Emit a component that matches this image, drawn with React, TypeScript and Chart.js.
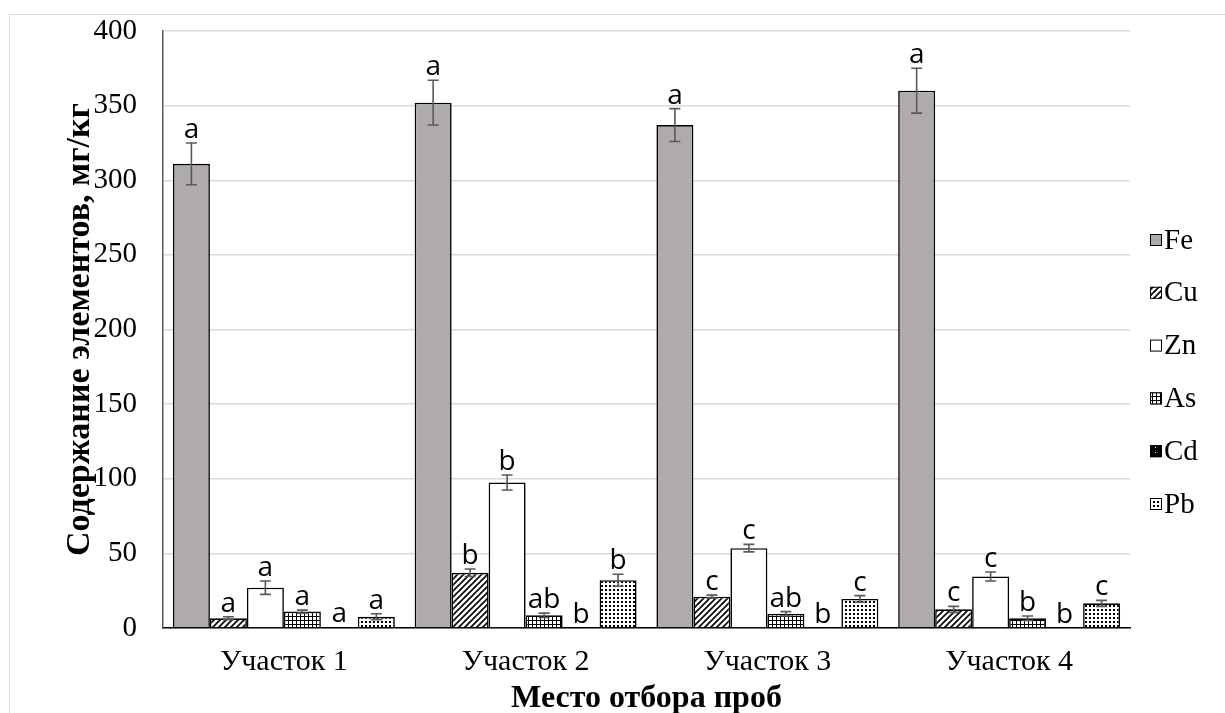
import React, { useEffect, useRef } from "react";
import { Chart, registerables } from "chart.js";

Chart.register(...registerables);

// ---- data ----
const categories = ["Участок 1", "Участок 2", "Участок 3", "Участок 4"];
const seriesNames = ["Fe", "Cu", "Zn", "As", "Cd", "Pb"];

const feValues = [311, 352, 337, 360];
const cuValues = [6.5, 37, 21, 12.5];
const znValues = [27, 97.5, 53.5, 34.5];
const asValues = [11, 8.5, 9.5, 6.5];
const cdValues = [0.4, 0.3, 0.3, 0.3];
const pbValues = [7.5, 32, 19.5, 16.5];

const feErrors = [14, 15, 11, 15];
const cuErrors = [1, 2.5, 1, 2];
const znErrors = [4.5, 5, 2.5, 3];
const asErrors = [1, 1.5, 1.5, 1.5];
const cdErrors = [0, 0, 0, 0];
const pbErrors = [2, 4, 2.2, 2];

const feLetters = ["a", "a", "a", "a"];
const cuLetters = ["a", "b", "c", "c"];
const znLetters = ["a", "b", "c", "c"];
const asLetters = ["a", "ab", "ab", "b"];
const cdLetters = ["a", "b", "b", "b"];
const pbLetters = ["a", "b", "c", "c"];

const yTicks = [0, 50, 100, 150, 200, 250, 300, 350, 400];

const yTitle = "Содержание элементов, мг/кг";
const xTitle = "Место отбора проб";

function makePattern(kind: string): CanvasPattern | string {
  const c = document.createElement("canvas");
  const g = c.getContext("2d")!;
  if (kind === "hatch") {
    const s = 6;
    c.width = s; c.height = s;
    g.fillStyle = "#fff"; g.fillRect(0, 0, s, s);
    g.strokeStyle = "#000"; g.lineWidth = 1.6;
    g.beginPath();
    g.moveTo(-1, s + 1); g.lineTo(s + 1, -1);
    g.moveTo(-1, 1); g.lineTo(1, -1);
    g.moveTo(s - 1, s + 1); g.lineTo(s + 1, s - 1);
    g.stroke();
  } else if (kind === "grid") {
    c.width = 4; c.height = 4;
    g.fillStyle = "#000"; g.fillRect(0, 0, 4, 4);
    g.fillStyle = "#fff"; g.fillRect(1, 1, 3, 3);
  } else if (kind === "dots") {
    c.width = 4; c.height = 4;
    g.fillStyle = "#fff"; g.fillRect(0, 0, 4, 4);
    g.fillStyle = "#000"; g.fillRect(1, 1, 2, 2);
  } else if (kind === "darkdots") {
    c.width = 6; c.height = 5;
    g.fillStyle = "#000"; g.fillRect(0, 0, 6, 5);
    g.fillStyle = "#fff"; g.fillRect(3, 2, 1, 1);
  }
  return g.createPattern(c, "repeat")!;
}

const errorBarPlugin = {
  id: "errorBars",
  afterDatasetsDraw(chart: any) {
    const ctx = chart.ctx as CanvasRenderingContext2D;
    const y = chart.scales.y;
    chart.data.datasets.forEach((ds: any, i: number) => {
      const meta = chart.getDatasetMeta(i);
      meta.data.forEach((bar: any, j: number) => {
        const v = ds.data[j];
        const e = ds.errors[j];
        const top = y.getPixelForValue(v + e);
        const bot = y.getPixelForValue(v - e);
        ctx.save();
        if (e > 0) {
          ctx.strokeStyle = "#595959";
          ctx.lineWidth = 1.6;
          ctx.beginPath();
          ctx.moveTo(bar.x, top); ctx.lineTo(bar.x, bot);
          ctx.moveTo(bar.x - 5.5, top); ctx.lineTo(bar.x + 5.5, top);
          ctx.moveTo(bar.x - 5.5, bot); ctx.lineTo(bar.x + 5.5, bot);
          ctx.stroke();
        }
        ctx.fillStyle = "#000";
        ctx.font = '28px "Open Sans"';
        ctx.textAlign = "center";
        ctx.textBaseline = "alphabetic";
        ctx.fillText(ds.letters[j], bar.x, top - 5);
        ctx.restore();
      });
    });
  },
};

const frameLegendPlugin = {
  id: "frameLegend",
  beforeDraw(chart: any) {
    const ctx = chart.ctx as CanvasRenderingContext2D;
    ctx.save();
    ctx.fillStyle = "#fff";
    ctx.fillRect(0, 0, chart.width, chart.height);
    ctx.strokeStyle = "#d9d9d9";
    ctx.lineWidth = 1;
    ctx.strokeRect(9.5, 14.5, chart.width + 20, chart.height + 20);
    ctx.restore();
  },
  afterDraw(chart: any) {
    const ctx = chart.ctx as CanvasRenderingContext2D;
    ctx.save();
    const x0 = chart.chartArea.right + 20;
    chart.data.datasets.forEach((ds: any, i: number) => {
      const cy = 240 + i * 52.8;
      ctx.fillStyle = ds.backgroundColor;
      ctx.fillRect(x0, cy - 6, 12, 12);
      ctx.strokeStyle = "#000";
      ctx.lineWidth = 1;
      ctx.strokeRect(x0 + 0.5, cy - 5.5, 11, 11);
      ctx.fillStyle = "#000";
      ctx.font = '29px "Liberation Serif"';
      ctx.textAlign = "left";
      ctx.textBaseline = "middle";
      ctx.fillText(ds.label, x0 + 14, cy + 1);
    });
    ctx.restore();
  },
};

export default function App() {
  const ref = useRef<HTMLCanvasElement | null>(null);
  useEffect(() => {
    if (!ref.current) return;
    const fills = [
      "#afabab",
      makePattern("hatch"),
      "#ffffff",
      makePattern("grid"),
      makePattern("darkdots"),
      makePattern("dots"),
    ];
    const values = [feValues, cuValues, znValues, asValues, cdValues, pbValues];
    const errors = [feErrors, cuErrors, znErrors, asErrors, cdErrors, pbErrors];
    const letters = [feLetters, cuLetters, znLetters, asLetters, cdLetters, pbLetters];
    const chart = new Chart(ref.current, {
      type: "bar",
      data: {
        labels: categories,
        datasets: seriesNames.map((name, i) => ({
          label: name,
          data: values[i],
          errors: errors[i],
          letters: letters[i],
          backgroundColor: fills[i] as any,
          borderColor: "#000",
          borderWidth: 1.6,
          borderSkipped: "bottom",
          categoryPercentage: 0.918,
          barPercentage: 1.0,
        })) as any,
      },
      options: {
        animation: false,
        responsive: false,
        layout: { padding: { top: 31, right: 95, bottom: 0, left: 0 } },
        plugins: {
          legend: { display: false },
          tooltip: { enabled: false },
        },
        scales: {
          x: {
            grid: { display: false, drawTicks: false },
            border: { display: true, color: "#000", width: 1.6 },
            ticks: {
              color: "#000",
              font: { family: "Liberation Serif", size: 30 },
              padding: 16,
              maxRotation: 0,
            },
            title: {
              display: true,
              text: xTitle,
              color: "#000",
              font: { family: "Liberation Serif", size: 32, weight: "bold", lineHeight: 1 },
              padding: { top: 0, bottom: -2 },
            },
            afterFit(scale: any) { scale.height = 85; },
          },
          y: {
            min: 0,
            max: 400,
            afterBuildTicks(scale: any) { scale.ticks = yTicks.map((v) => ({ value: v })); },
            grid: {
              color: "#d9d9d9",
              lineWidth: 1.5,
              drawTicks: true,
              tickLength: 26,
              tickColor: "rgba(0,0,0,0)",
            },
            border: { display: true, color: "#595959", width: 1.5 },
            ticks: {
              color: "#000",
              font: { family: "Liberation Serif", size: 29 },
              padding: 0,
            },
            title: {
              display: true,
              text: yTitle,
              color: "#000",
              font: { family: "Liberation Serif", size: 34, weight: "bold" },
              padding: { top: 60, bottom: 0 },
            },
            afterFit(scale: any) { scale.width = 163; },
          },
        },
      },
      plugins: [frameLegendPlugin, errorBarPlugin],
    } as any);
    return () => chart.destroy();
  }, []);
  return (
    <canvas
      ref={ref}
      width={1225}
      height={713}
      style={{ position: "fixed", left: 0, top: 0, width: 1225, height: 713, display: "block" }}
    />
  );
}
